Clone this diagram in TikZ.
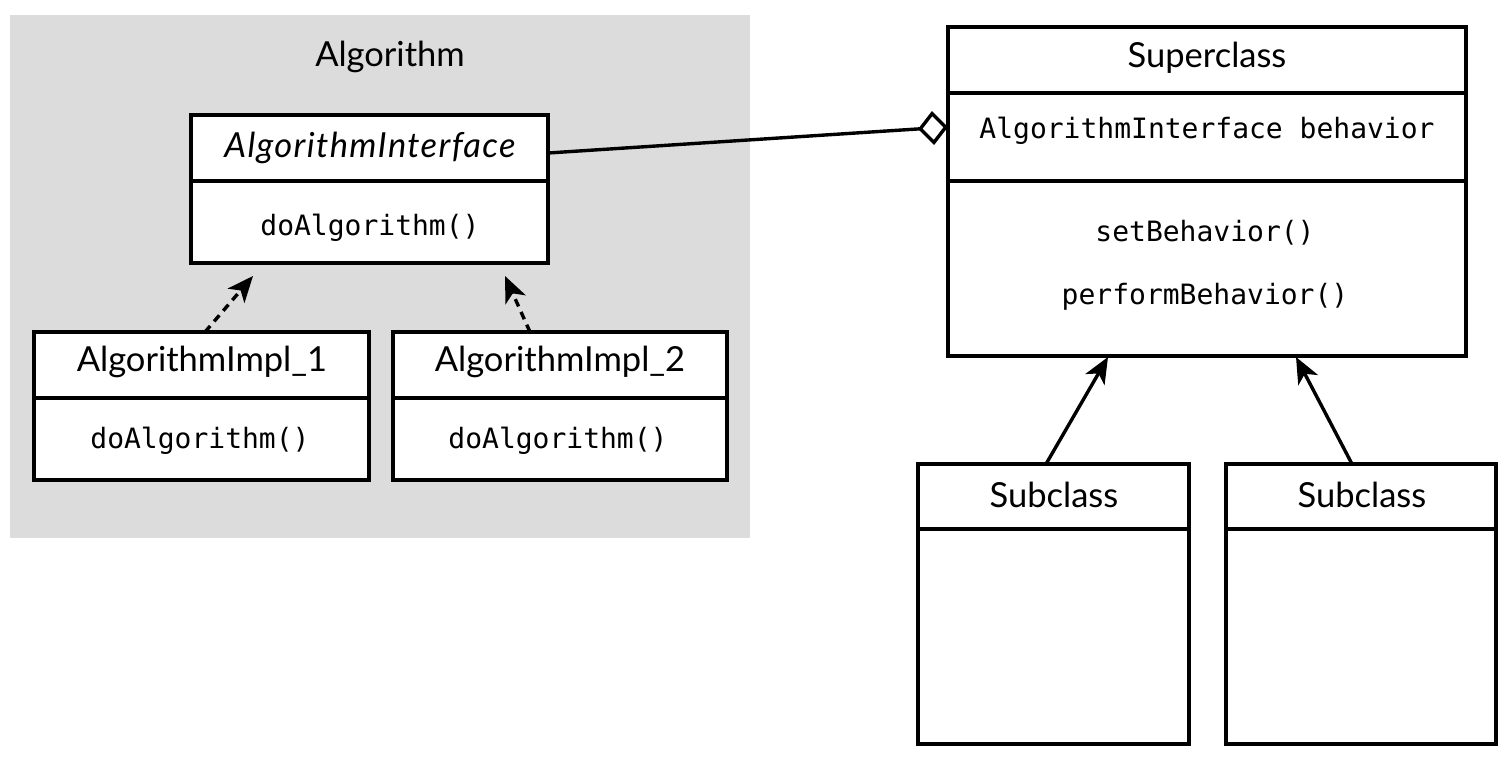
\documentclass[tikz,border=0pt]{standalone}
\usepackage{fontspec}
\setmainfont{Lato}
\setmonofont{DejaVu Sans Mono}
\usetikzlibrary{arrows.meta}
\definecolor{pkg}{RGB}{220,220,220}
\tikzset{
  box/.style={draw, line width=3.6pt, fill=white, inner sep=0pt, outer sep=0pt, anchor=north west},
  ttl/.style={font=\fontsize{34.5}{40}\selectfont, inner sep=0pt},
  mth/.style={font=\fontsize{28}{34}\selectfont\ttfamily, inner sep=0pt},
  divider/.style={line width=3.6pt},
  dep/.style={line width=3.4pt, dash pattern=on 8pt off 6pt, -{Stealth[length=26pt,width=22pt,inset=7pt]}},
  inh/.style={line width=3.4pt, -{Stealth[length=26pt,width=22pt,inset=7pt]}},
  agg/.style={line width=3.4pt, -{Diamond[open,length=30pt,width=34pt,line width=3.4pt]}}
}
\begin{document}
\begin{tikzpicture}[x=1pt,y=-1pt]
\useasboundingbox (0,0) rectangle (1511,764);
\fill[white] (0,0) rectangle (1511,764);
% package background
\node[fill=pkg, inner sep=0pt, outer sep=0pt, anchor=north west, minimum width=740pt, minimum height=523pt] (pkg) at (10,15) {};
\node[ttl] (pkgT) at (390,57) {Algorithm};

% AlgorithmInterface
\node[box, minimum width=357pt, minimum height=148pt] (ai) at (191,115) {};
\draw[divider] (191,181) -- (548,181);
\node[ttl] (aiT) at (370,148) {\itshape\addfontfeatures{LetterSpace=4}AlgorithmInterface};
\node[mth] (aiM) at (370,228) {doAlgorithm()};

% Impl 1
\node[box, minimum width=335pt, minimum height=148pt] (i1) at (34,332) {};
\draw[divider] (34,398) -- (369,398);
\node[ttl] (i1T) at (202,362) {AlgorithmImpl\_1};
\node[mth] (i1M) at (200,441) {doAlgorithm()};

% Impl 2
\node[box, minimum width=334pt, minimum height=148pt] (i2) at (393,332) {};
\draw[divider] (393,398) -- (727,398);
\node[ttl] (i2T) at (560,362) {AlgorithmImpl\_2};
\node[mth] (i2M) at (558,441) {doAlgorithm()};

% Superclass
\node[box, minimum width=518pt, minimum height=329pt] (sup) at (948,27) {};
\draw[divider] (948,93) -- (1466,93);
\draw[divider] (948,181) -- (1466,181);
\node[ttl] (supT) at (1207,58) {Superclass};
\node[mth] (supA) at (1207,131) {AlgorithmInterface behavior};
\node[mth] (supM1) at (1205,233) {setBehavior()};
\node[mth] (supM2) at (1205,297) {performBehavior()};

% Subclasses
\node[box, minimum width=271pt, minimum height=280pt] (s1) at (918,464) {};
\draw[divider] (918,529) -- (1189,529);
\node[ttl] (s1T) at (1054,495) {Subclass};
\node[box, minimum width=270pt, minimum height=280pt] (s2) at (1226,464) {};
\draw[divider] (1226,529) -- (1496,529);
\node[ttl] (s2T) at (1362,495) {Subclass};

% connectors
\draw[dep] ([xshift=171pt]i1.north west) -- ([xshift=62pt,yshift=-13pt]ai.south west);
\draw[dep] ([xshift=137pt]i2.north west) -- ([xshift=314pt,yshift=-13pt]ai.south west);
\draw[inh] ([xshift=128pt]s1.north west) -- ([xshift=160pt,yshift=-1pt]sup.south west);
\draw[inh] ([xshift=126pt]s2.north west) -- ([xshift=348pt,yshift=-1pt]sup.south west);
\draw[agg] ([yshift=-38pt]ai.north east) -- ([yshift=-100pt]sup.north west);
\end{tikzpicture}
\end{document}
